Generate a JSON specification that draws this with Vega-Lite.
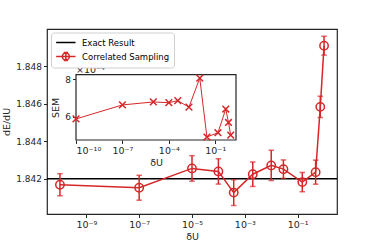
{
  "$schema": "https://vega.github.io/schema/vega-lite/v6.json",
  "width": 290,
  "height": 185,
  "autosize": {"type": "none"},
  "padding": {"left": 47, "top": 29, "right": 37, "bottom": 28},
  "config": {
    "font": "DejaVu Sans",
    "view": {"stroke": "#262626", "strokeWidth": 1.2},
    "axis": {
      "domain": false, "grid": false,
      "tickColor": "#262626", "tickSize": 3.5, "tickWidth": 1,
      "labelColor": "#262626", "labelFontSize": 9, "labelPadding": 2,
      "titleFontSize": 9.5, "titleFontWeight": "normal", "titleColor": "#262626"
    }
  },
  "datasets": {
    "main": [
      {"dU": 1e-10, "dEdU": 1.84168, "SEM": 0.000588, "series": "Correlated Sampling"},
      {"dU": 1e-7, "dEdU": 1.84152, "SEM": 0.000663, "series": "Correlated Sampling"},
      {"dU": 1e-5, "dEdU": 1.84255, "SEM": 0.000679, "series": "Correlated Sampling"},
      {"dU": 1e-4, "dEdU": 1.84239, "SEM": 0.000675, "series": "Correlated Sampling"},
      {"dU": 3.8e-4, "dEdU": 1.84126, "SEM": 0.000686, "series": "Correlated Sampling"},
      {"dU": 2e-3, "dEdU": 1.84224, "SEM": 0.000651, "series": "Correlated Sampling"},
      {"dU": 1e-2, "dEdU": 1.84271, "SEM": 0.000807, "series": "Correlated Sampling"},
      {"dU": 2.9e-2, "dEdU": 1.84251, "SEM": 0.000491, "series": "Correlated Sampling"},
      {"dU": 0.15, "dEdU": 1.84182, "SEM": 0.000514, "series": "Correlated Sampling"},
      {"dU": 0.48, "dEdU": 1.84235, "SEM": 0.000641, "series": "Correlated Sampling"},
      {"dU": 0.72, "dEdU": 1.84583, "SEM": 0.000569, "series": "Correlated Sampling"},
      {"dU": 1.0, "dEdU": 1.84909, "SEM": 0.000501, "series": "Correlated Sampling"}
    ],
    "exact": [{"series": "Exact Result", "dEdU": 1.842}]
  },
  "layer": [
    {
      "layer": [
        {
          "data": {"name": "exact"},
          "mark": {"type": "rule", "strokeWidth": 1.5},
          "encoding": {
            "y": {"field": "dEdU", "type": "quantitative", "title": "dE/dU"},
            "color": {
              "field": "series", "type": "nominal",
              "scale": {"domain": ["Exact Result", "Correlated Sampling"], "range": ["#000000", "#d62728"]},
              "legend": {
                "title": null, "orient": "none", "legendX": 4, "legendY": 3.5,
                "padding": 4, "rowPadding": 2, "labelFontSize": 8.5, "labelColor": "#000000",
                "symbolSize": 94, "labelOffset": 15, "symbolStrokeWidth": 1.5,
                "symbolFillColor": "transparent",
                "strokeColor": "#d0d0d0", "cornerRadius": 3, "fillColor": "#ffffff",
                "encode": {
                  "symbols": {
                    "update": {
                      "shape": {"signal": "datum.value == 'Exact Result' ? 'M-1,0H3' : 'M-1,0H3M1.72,0A0.72,0.72,0,1,1,0.28,0A0.72,0.72,0,1,1,1.72,0M1,-0.8V0.8M0.55,-0.8H1.45M0.55,0.8H1.45'"},
                      "fill": {"value": "transparent"},
                      "strokeWidth": {"value": 1.5}
                    }
                  }
                }
              }
            }
          }
        },
        {
          "data": {"name": "main"},
          "mark": {"type": "line", "strokeWidth": 1.5},
          "encoding": {
            "x": {
              "field": "dU", "type": "quantitative", "title": "δU",
              "scale": {"type": "log", "domain": [3.24e-11, 3.09], "nice": false},
              "axis": {
                "values": [1e-9, 1e-7, 1e-5, 1e-3, 1e-1], "titlePadding": 2, "labelFontSize": 9.5,
                "labelExpr": "datum.value < 5e-9 ? '10⁻⁹' : datum.value < 5e-7 ? '10⁻⁷' : datum.value < 5e-5 ? '10⁻⁵' : datum.value < 5e-3 ? '10⁻³' : '10⁻¹'"
              }
            },
            "y": {
              "field": "dEdU", "type": "quantitative", "title": "dE/dU",
              "scale": {"domain": [1.84012, 1.84998], "nice": false, "zero": false},
              "axis": {"values": [1.842, 1.844, 1.846, 1.848], "format": ".3f"}
            },
            "color": {"field": "series", "type": "nominal"}
          }
        },
        {
          "data": {"name": "main"},
          "mark": {"type": "errorbar", "ticks": true, "size": 5.5, "thickness": 1.5, "color": "#d62728"},
          "encoding": {
            "x": {"field": "dU", "type": "quantitative", "title": "δU"},
            "y": {"field": "dEdU", "type": "quantitative", "title": "dE/dU"},
            "yError": {"field": "SEM"}
          }
        },
        {
          "data": {"name": "main"},
          "mark": {"type": "point", "shape": "circle", "filled": false, "size": 70, "strokeWidth": 1.5, "color": "#d62728", "opacity": 1},
          "encoding": {
            "x": {"field": "dU", "type": "quantitative", "title": "δU"},
            "y": {"field": "dEdU", "type": "quantitative", "title": "dE/dU"}
          }
        }
      ]
    },
    {
      "layer": [
        {
          "data": {"values": [{}]},
          "mark": {"type": "rect", "fill": "#ffffff", "stroke": "#262626", "strokeWidth": 1.2},
          "encoding": {
            "x": {
              "datum": 1e-10, "type": "quantitative", "title": "δU",
              "scale": {"type": "log", "domain": [1e-10, 2.2], "range": [29, 189], "nice": false},
              "axis": {
                "orient": "bottom", "offset": -74, "values": [1e-10, 1e-7, 1e-4, 1e-1], "titlePadding": 2, "labelFontSize": 9.5,
                "labelExpr": "datum.value < 5e-9 ? '10⁻¹⁰' : datum.value < 5e-6 ? '10⁻⁷' : datum.value < 5e-3 ? '10⁻⁴' : '10⁻¹'"
              }
            },
            "x2": {"datum": 2.2},
            "y": {
              "datum": 0.000475, "type": "quantitative", "title": "SEM",
              "scale": {"domain": [0.000475, 0.000825], "range": [111, 45.7], "nice": false, "zero": false},
              "axis": {
                "orient": "left", "offset": -29, "values": [0.0006, 0.0008],
                "labelExpr": "format(datum.value * 10000, 'd')"
              }
            },
            "y2": {"datum": 0.000825}
          }
        },
        {
          "data": {"name": "main"},
          "mark": {"type": "line", "strokeWidth": 1, "color": "#d62728"},
          "encoding": {
            "x": {"field": "dU", "type": "quantitative", "title": "δU"},
            "y": {"field": "SEM", "type": "quantitative", "title": "SEM"}
          }
        },
        {
          "data": {"name": "main"},
          "mark": {"type": "point", "shape": "M-1,-1L1,1M1,-1L-1,1", "filled": false, "size": 45, "strokeWidth": 1.5, "color": "#d62728", "opacity": 1},
          "encoding": {
            "x": {"field": "dU", "type": "quantitative", "title": "δU"},
            "y": {"field": "SEM", "type": "quantitative", "title": "SEM"}
          }
        },
        {
          "data": {"values": [{}]},
          "mark": {"type": "text", "text": "×10⁻⁴", "align": "left", "baseline": "bottom", "fontSize": 9.5, "color": "#262626", "dy": 0},
          "encoding": {
            "x": {"datum": 1e-10, "type": "quantitative"},
            "y": {"datum": 0.000825, "type": "quantitative"}
          }
        }
      ]
    }
  ],
  "resolve": {
    "scale": {"x": "independent", "y": "independent"},
    "axis": {"x": "independent", "y": "independent"}
  }
}
